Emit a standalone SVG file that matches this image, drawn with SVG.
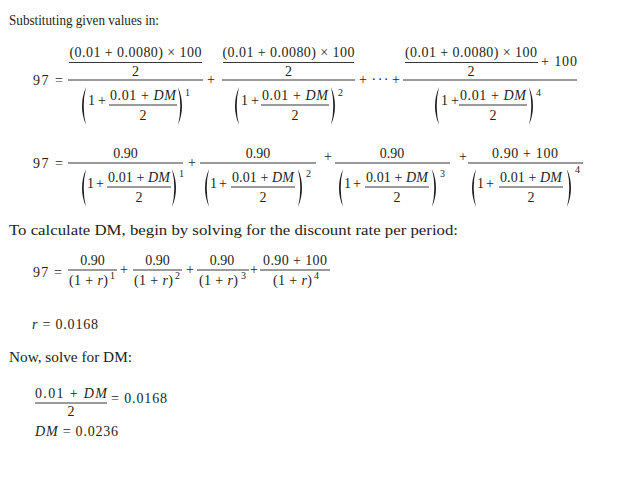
<svg xmlns="http://www.w3.org/2000/svg" xmlns:xlink="http://www.w3.org/1999/xlink" width="635" height="478" viewBox="0 0 635 478">
<style>
text{font-family:"Liberation Serif","Times New Roman",serif;fill:#231f20}
.t{font-size:15px}
.m{font-size:14px}
.c{text-anchor:middle}
.s{font-size:10px}
.i{font-style:italic}
.bar{stroke:#231f20;stroke-width:0.9;fill:none}
.p{fill:#231f20}
</style>
<defs>
<path id="lp" class="p" d="M6,0 Q-2,19 6,38 Q1.4,19 6,0 Z"/>
<path id="rp" class="p" d="M0,0 Q8,19 0,38 Q4.6,19 0,0 Z"/>
</defs>
<rect width="635" height="478" fill="#fff"/>

<text class="t" x="9" y="25" textLength="150" lengthAdjust="spacingAndGlyphs">Substituting given values in:</text>

<g id="eq1">
<text class="m" x="33" y="85" textLength="30">97 =</text>
<g id="eq1-t1">
<text class="m c" x="135.5" y="57" textLength="132">(0.01 + 0.0080) × 100</text>
<line class="bar" x1="69" y1="62.5" x2="202" y2="62.5"/>
<text class="m c" x="135.5" y="76">2</text>
<line class="bar" x1="68" y1="80" x2="203" y2="80"/>
<use xlink:href="#lp" x="80" y="87"/>
<text class="m" x="88" y="105" textLength="18">1 +</text>
<text class="m c" x="143" y="100" textLength="66">0.01 + <tspan class="i">DM</tspan></text>
<line class="bar" x1="109" y1="105" x2="177" y2="105"/>
<text class="m c" x="143" y="120">2</text>
<use xlink:href="#rp" x="178" y="87"/>
<text class="m s" x="185" y="96">1</text>
</g>
<text class="m c" x="211" y="84">+</text>
<g id="eq1-t2">
<text class="m c" x="288.5" y="57" textLength="132">(0.01 + 0.0080) × 100</text>
<line class="bar" x1="223" y1="62.5" x2="354" y2="62.5"/>
<text class="m c" x="288.5" y="76">2</text>
<line class="bar" x1="222" y1="80" x2="355" y2="80"/>
<use xlink:href="#lp" x="233" y="87"/>
<text class="m" x="241" y="105" textLength="18">1 +</text>
<text class="m c" x="295" y="100" textLength="66">0.01 + <tspan class="i">DM</tspan></text>
<line class="bar" x1="261" y1="105" x2="329" y2="105"/>
<text class="m c" x="295" y="120">2</text>
<use xlink:href="#rp" x="331" y="87"/>
<text class="m s" x="338" y="96">2</text>
</g>
<text class="m c" x="363" y="84">+</text>
<text class="m c" x="380" y="84" textLength="17">···</text>
<text class="m c" x="396" y="84">+</text>
<g id="eq1-t3">
<text class="m c" x="471" y="57" textLength="132">(0.01 + 0.0080) × 100</text>
<line class="bar" x1="405" y1="62.5" x2="538" y2="62.5"/>
<text class="m c" x="471" y="76">2</text>
<text class="m" x="541" y="66" textLength="36">+ 100</text>
<line class="bar" x1="403" y1="80" x2="577" y2="80"/>
<use xlink:href="#lp" x="433" y="87"/>
<text class="m" x="441" y="105" textLength="18">1 +</text>
<text class="m c" x="493" y="100" textLength="66">0.01 + <tspan class="i">DM</tspan></text>
<line class="bar" x1="459" y1="105" x2="527" y2="105"/>
<text class="m c" x="493" y="120">2</text>
<use xlink:href="#rp" x="529" y="87"/>
<text class="m s" x="536" y="96">4</text>
</g>
</g>

<g id="eq2">
<text class="m" x="33" y="168" textLength="30">97 =</text>
<g id="eq2-t1">
<text class="m c" x="125.5" y="158">0.90</text>
<line class="bar" x1="68" y1="163" x2="183" y2="163"/>
<use xlink:href="#lp" x="80" y="169"/>
<text class="m" x="87" y="188" textLength="17">1 +</text>
<text class="m c" x="139" y="182" textLength="62">0.01 + <tspan class="i">DM</tspan></text>
<line class="bar" x1="107" y1="187" x2="171" y2="187"/>
<text class="m c" x="139" y="202">2</text>
<use xlink:href="#rp" x="172" y="169"/>
<text class="m s" x="179" y="177">1</text>
</g>
<text class="m c" x="192" y="167">+</text>
<g id="eq2-t2">
<text class="m c" x="258" y="158">0.90</text>
<line class="bar" x1="200" y1="163" x2="316" y2="163"/>
<use xlink:href="#lp" x="203" y="169"/>
<text class="m" x="210" y="188" textLength="17">1 +</text>
<text class="m c" x="263" y="182" textLength="62">0.01 + <tspan class="i">DM</tspan></text>
<line class="bar" x1="231" y1="187" x2="295" y2="187"/>
<text class="m c" x="263" y="202">2</text>
<use xlink:href="#rp" x="298" y="169"/>
<text class="m s" x="306" y="177">2</text>
</g>
<text class="m c" x="328" y="161">+</text>
<g id="eq2-t3">
<text class="m c" x="392" y="158">0.90</text>
<line class="bar" x1="335" y1="163" x2="450" y2="163"/>
<use xlink:href="#lp" x="337" y="169"/>
<text class="m" x="344" y="188" textLength="17">1 +</text>
<text class="m c" x="397" y="182" textLength="62">0.01 + <tspan class="i">DM</tspan></text>
<line class="bar" x1="365" y1="187" x2="429" y2="187"/>
<text class="m c" x="397" y="202">2</text>
<use xlink:href="#rp" x="432" y="169"/>
<text class="m s" x="440" y="177">3</text>
</g>
<text class="m c" x="463" y="161">+</text>
<g id="eq2-t4">
<text class="m c" x="525" y="158" textLength="66">0.90 + 100</text>
<line class="bar" x1="468" y1="163" x2="583" y2="163"/>
<use xlink:href="#lp" x="470" y="169"/>
<text class="m" x="477" y="188" textLength="17">1 +</text>
<text class="m c" x="531" y="182" textLength="62">0.01 + <tspan class="i">DM</tspan></text>
<line class="bar" x1="499" y1="187" x2="563" y2="187"/>
<text class="m c" x="531" y="202">2</text>
<use xlink:href="#rp" x="567" y="169"/>
<text class="m s" x="575" y="173">4</text>
</g>
</g>

<text class="t" x="9" y="235" textLength="449" lengthAdjust="spacingAndGlyphs">To calculate DM, begin by solving for the discount rate per period:</text>

<g id="eq3">
<text class="m" x="33" y="277" textLength="29">97 =</text>
<text class="m c" x="92.5" y="265">0.90</text>
<line class="bar" x1="68" y1="270" x2="117" y2="270"/>
<text class="m" x="69" y="285" textLength="39">(1 + <tspan class="i">r</tspan>)</text>
<text class="m s" x="110" y="279">1</text>
<text class="m c" x="124" y="274">+</text>
<text class="m c" x="157.5" y="265">0.90</text>
<line class="bar" x1="133" y1="270" x2="182" y2="270"/>
<text class="m" x="134" y="285" textLength="39">(1 + <tspan class="i">r</tspan>)</text>
<text class="m s" x="175" y="279">2</text>
<text class="m c" x="190" y="274">+</text>
<text class="m c" x="222" y="265">0.90</text>
<line class="bar" x1="197" y1="270" x2="249" y2="270"/>
<text class="m" x="199" y="285" textLength="39">(1 + <tspan class="i">r</tspan>)</text>
<text class="m s" x="241" y="279">3</text>
<text class="m c" x="254" y="274">+</text>
<text class="m c" x="295" y="265" textLength="64">0.90 + 100</text>
<line class="bar" x1="260" y1="270" x2="330" y2="270"/>
<text class="m" x="273" y="285" textLength="39">(1 + <tspan class="i">r</tspan>)</text>
<text class="m s" x="314" y="279">4</text>
</g>

<text class="m" x="32" y="329" textLength="66"><tspan class="i">r</tspan> = 0.0168</text>

<text class="t" x="9" y="362" textLength="123" lengthAdjust="spacingAndGlyphs">Now, solve for DM:</text>

<g id="eq4">
<text class="m c" x="71" y="398" textLength="72">0.01 + <tspan class="i">DM</tspan></text>
<line class="bar" x1="35" y1="403" x2="107" y2="403"/>
<text class="m c" x="71" y="416">2</text>
<text class="m" x="111" y="403" textLength="56">= 0.0168</text>
</g>

<text class="m" x="35" y="436" textLength="83"><tspan class="i">DM</tspan> = 0.0236</text>
</svg>
